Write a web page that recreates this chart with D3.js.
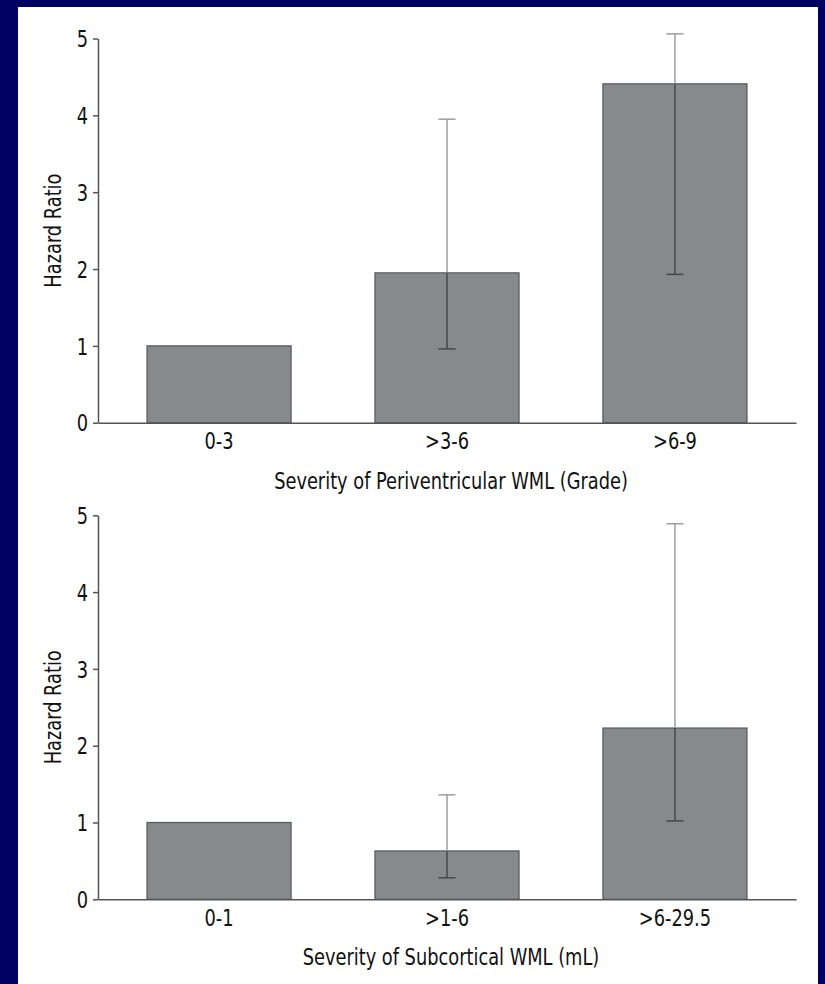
<!DOCTYPE html>
<html>
<head>
<meta charset="utf-8">
<script src="https://cdn.jsdelivr.net/npm/d3@7"></script>
<style>
  body { margin: 0; background: #000062; }
  svg { display: block; }
  text { font-family: "Liberation Sans Narrow", "Arial Narrow", "DejaVu Sans Condensed", sans-serif; fill: #111; }
</style>
</head>
<body>
<div id="viz"></div>
<script>
// Data
const periCats = ['0-3', '>3-6', '>6-9'];
const periHR = [1, 1.95, 4.41];
const periLow = [null, 0.96, 1.93];
const periHigh = [null, 3.95, 5.06];

const subCats = ['0-1', '>1-6', '>6-29.5'];
const subHR = [1, 0.63, 2.23];
const subLow = [null, 0.28, 1.02];
const subHigh = [null, 1.36, 4.89];

const yTicks = [0, 1, 2, 3, 4, 5];

const W = 825, H = 984;
const svg = d3.select('#viz').append('svg')
  .attr('width', W)
  .attr('height', H);

// white panel on navy
svg.append('rect')
  .attr('x', 18).attr('y', 7)
  .attr('width', 800).attr('height', H - 7)
  .attr('fill', '#fff');

const left = 98, right = 796;
const barFill = '#878a8c', barStroke = '#555759';

function drawPanel(cats, hr, low, high, xTitle, top, bottom) {
  const g = svg.append('g');

  const x = d3.scaleBand()
    .domain(cats)
    .range([left, right])
    .paddingInner(0.368)
    .paddingOuter(0.215);
  const y = d3.scaleLinear()
    .domain([0, 5])
    .range([bottom, top]);

  const rows = cats.map((c, i) => ({ c, v: hr[i], lo: low[i], hi: high[i] }));

  // bars
  g.selectAll('rect.bar')
    .data(rows)
    .enter()
    .append('rect')
    .attr('class', 'bar')
    .attr('x', d => x(d.c))
    .attr('y', d => y(d.v))
    .attr('width', x.bandwidth())
    .attr('height', d => y(0) - y(d.v))
    .attr('fill', barFill)
    .attr('stroke', barStroke)
    .attr('stroke-width', 1.2);

  // error bars: light above bar top, dark inside bar
  const eb = rows.filter(d => d.hi != null);
  const cx = d => x(d.c) + x.bandwidth() / 2;
  const cap = 8.5;

  g.selectAll('line.eup')
    .data(eb)
    .enter()
    .append('line')
    .attr('x1', cx).attr('x2', cx)
    .attr('y1', d => y(d.hi)).attr('y2', d => y(d.v))
    .attr('stroke', '#9d9d9d')
    .attr('stroke-width', 1.5);
  g.selectAll('line.ecapup')
    .data(eb)
    .enter()
    .append('line')
    .attr('x1', d => cx(d) - cap).attr('x2', d => cx(d) + cap)
    .attr('y1', d => y(d.hi)).attr('y2', d => y(d.hi))
    .attr('stroke', '#9d9d9d')
    .attr('stroke-width', 1.5);
  g.selectAll('line.edown')
    .data(eb)
    .enter()
    .append('line')
    .attr('x1', cx).attr('x2', cx)
    .attr('y1', d => y(d.v)).attr('y2', d => y(d.lo))
    .attr('stroke', '#45484a')
    .attr('stroke-width', 1.5);
  g.selectAll('line.ecaplo')
    .data(eb)
    .enter()
    .append('line')
    .attr('x1', d => cx(d) - cap).attr('x2', d => cx(d) + cap)
    .attr('y1', d => y(d.lo)).attr('y2', d => y(d.lo))
    .attr('stroke', '#45484a')
    .attr('stroke-width', 1.5);

  // y axis
  const ya = g.append('g')
    .attr('transform', `translate(${left},0)`)
    .call(d3.axisLeft(y).tickValues(yTicks).tickFormat(d3.format('d')).tickSize(5).tickSizeOuter(0).tickPadding(5));
  ya.selectAll('text').style('font-size', '23px').attr('fill', '#111').attr('dy', '0.36em');

  // x axis
  const xa = g.append('g')
    .attr('transform', `translate(0,${bottom})`)
    .call(d3.axisBottom(x).tickSize(0).tickSizeOuter(0).tickPadding(10));
  xa.selectAll('text').style('font-size', '23px').attr('fill', '#111');

  svg.selectAll('.domain, .tick line')
    .attr('stroke', '#555')
    .attr('stroke-width', 1.5);

  // titles
  g.append('text')
    .attr('x', (left + right) / 2 + 4)
    .attr('y', bottom + 66)
    .attr('text-anchor', 'middle')
    .style('font-size', '23px')
    .text(xTitle);
  g.append('text')
    .attr('transform', `translate(61,${(top + bottom) / 2}) rotate(-90)`)
    .attr('text-anchor', 'middle')
    .style('font-size', '23px')
    .text('Hazard Ratio');
}

drawPanel(periCats, periHR, periLow, periHigh, 'Severity of Periventricular WML (Grade)', 38.5, 422.7);
drawPanel(subCats, subHR, subLow, subHigh, 'Severity of Subcortical WML (mL)', 515.3, 899.3);

// squeeze text to a condensed look like the original typeface
svg.selectAll('text').each(function () {
  const len = this.getComputedTextLength();
  d3.select(this)
    .attr('textLength', len * 0.86)
    .attr('lengthAdjust', 'spacingAndGlyphs');
});
</script>
</body>
</html>
